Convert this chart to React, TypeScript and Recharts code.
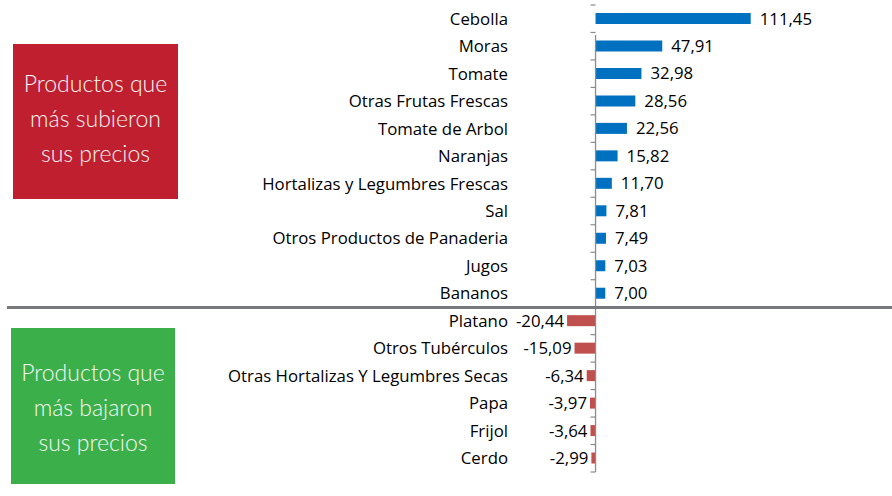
import React from 'react';
import { BarChart, Bar, XAxis, YAxis, Cell, LabelList, ReferenceLine } from 'recharts';

const categories = [
  'Cebolla',
  'Moras',
  'Tomate',
  'Otras Frutas Frescas',
  'Tomate de Arbol',
  'Naranjas',
  'Hortalizas y Legumbres Frescas',
  'Sal',
  'Otros Productos de Panaderia',
  'Jugos',
  'Bananos',
  'Platano',
  'Otros Tubérculos',
  'Otras Hortalizas Y Legumbres Secas',
  'Papa',
  'Frijol',
  'Cerdo',
];

const variations = [
  111.45, 47.91, 32.98, 28.56, 22.56, 15.82, 11.7, 7.81, 7.49, 7.03, 7.0,
  -20.44, -15.09, -6.34, -3.97, -3.64, -2.99,
];

const upColor = '#0070c0';
const downColor = '#c0504d';
const font = '"Open Sans", "Liberation Sans", sans-serif';
const boxFont = 'Lato, "Open Sans", sans-serif';

const data = categories.map((name, i) => ({ name, value: variations[i] }));

const fmt = (v: number) => v.toFixed(2).replace('.', ',');

const ValueLabel = (props: any) => {
  const { x, y, width, height, value } = props;
  const lo = Math.min(x, x + width);
  const hi = Math.max(x, x + width);
  const cy = y + height / 2;
  if (value < 0) {
    return (
      <text x={lo - 3} y={cy} dy="0.36em" textAnchor="end" fontSize={16.8} fontFamily={font} fill="#000">
        {fmt(value)}
      </text>
    );
  }
  return (
    <text x={hi + 9} y={cy} dy="0.36em" textAnchor="start" fontSize={16.8} fontFamily={font} fill="#000">
      {fmt(value)}
    </text>
  );
};

// zero axis with tick marks between categories, like Excel
const ZeroAxis = (props: any) => {
  const { x1, y1, y2 } = props;
  const n = categories.length;
  const step = (y2 - y1) / n;
  const ticks = [];
  for (let i = 0; i <= n; i++) {
    ticks.push(
      <line key={i} x1={x1 - 5} x2={x1} y1={y1 + i * step} y2={y1 + i * step} stroke="#8c8c8c" strokeWidth={1.2} />
    );
  }
  return (
    <g>
      <line x1={x1} x2={x1} y1={y1} y2={y2 + 30} stroke="#8c8c8c" strokeWidth={1.3} />
      {ticks}
    </g>
  );
};

const boxText: React.CSSProperties = {
  position: 'absolute',
  boxSizing: 'border-box',
  display: 'flex',
  alignItems: 'center',
  justifyContent: 'center',
  textAlign: 'center',
  color: '#f7f7f7',
  fontFamily: boxFont,
  fontWeight: 300,
  fontSize: 23,
  lineHeight: '35px',
};

export default function App() {
  return (
    <div style={{ position: 'absolute', left: 0, top: 0, width: 892, height: 496, background: '#fff', overflow: 'hidden' }}>
      <BarChart
        width={892}
        height={496}
        data={data}
        layout="vertical"
        margin={{ top: 5, right: 18, bottom: 24, left: 0 }}
        barSize={11}
      >
        <XAxis type="number" domain={[-60, 200]} hide />
        <YAxis
          type="category"
          dataKey="name"
          width={512}
          axisLine={false}
          tickLine={false}
          tickSize={0}
          tickMargin={4}
          interval={0}
          tick={{ fontSize: 16.8, fontFamily: font, fill: '#000' }}
        />
        <Bar dataKey="value" isAnimationActive={false}>
          {data.map((d, i) => (
            <Cell key={i} fill={d.value < 0 ? downColor : upColor} />
          ))}
          <LabelList dataKey="value" content={ValueLabel} />
        </Bar>
        <ReferenceLine x={0} shape={ZeroAxis} />
      </BarChart>

      <div style={{ position: 'absolute', left: 7, top: 306, width: 885, height: 3, background: '#76787b' }} />

      <div style={{ ...boxText, left: 13, top: 44, width: 165, height: 155, paddingBottom: 7, background: '#c01f2f' }}>
        Productos que
        <br />
        más subieron
        <br />
        sus precios
      </div>
      <div style={{ ...boxText, left: 11, top: 328, width: 164, height: 156, paddingTop: 2, background: '#3bb04a' }}>
        Productos que
        <br />
        más bajaron
        <br />
        sus precios
      </div>
    </div>
  );
}
